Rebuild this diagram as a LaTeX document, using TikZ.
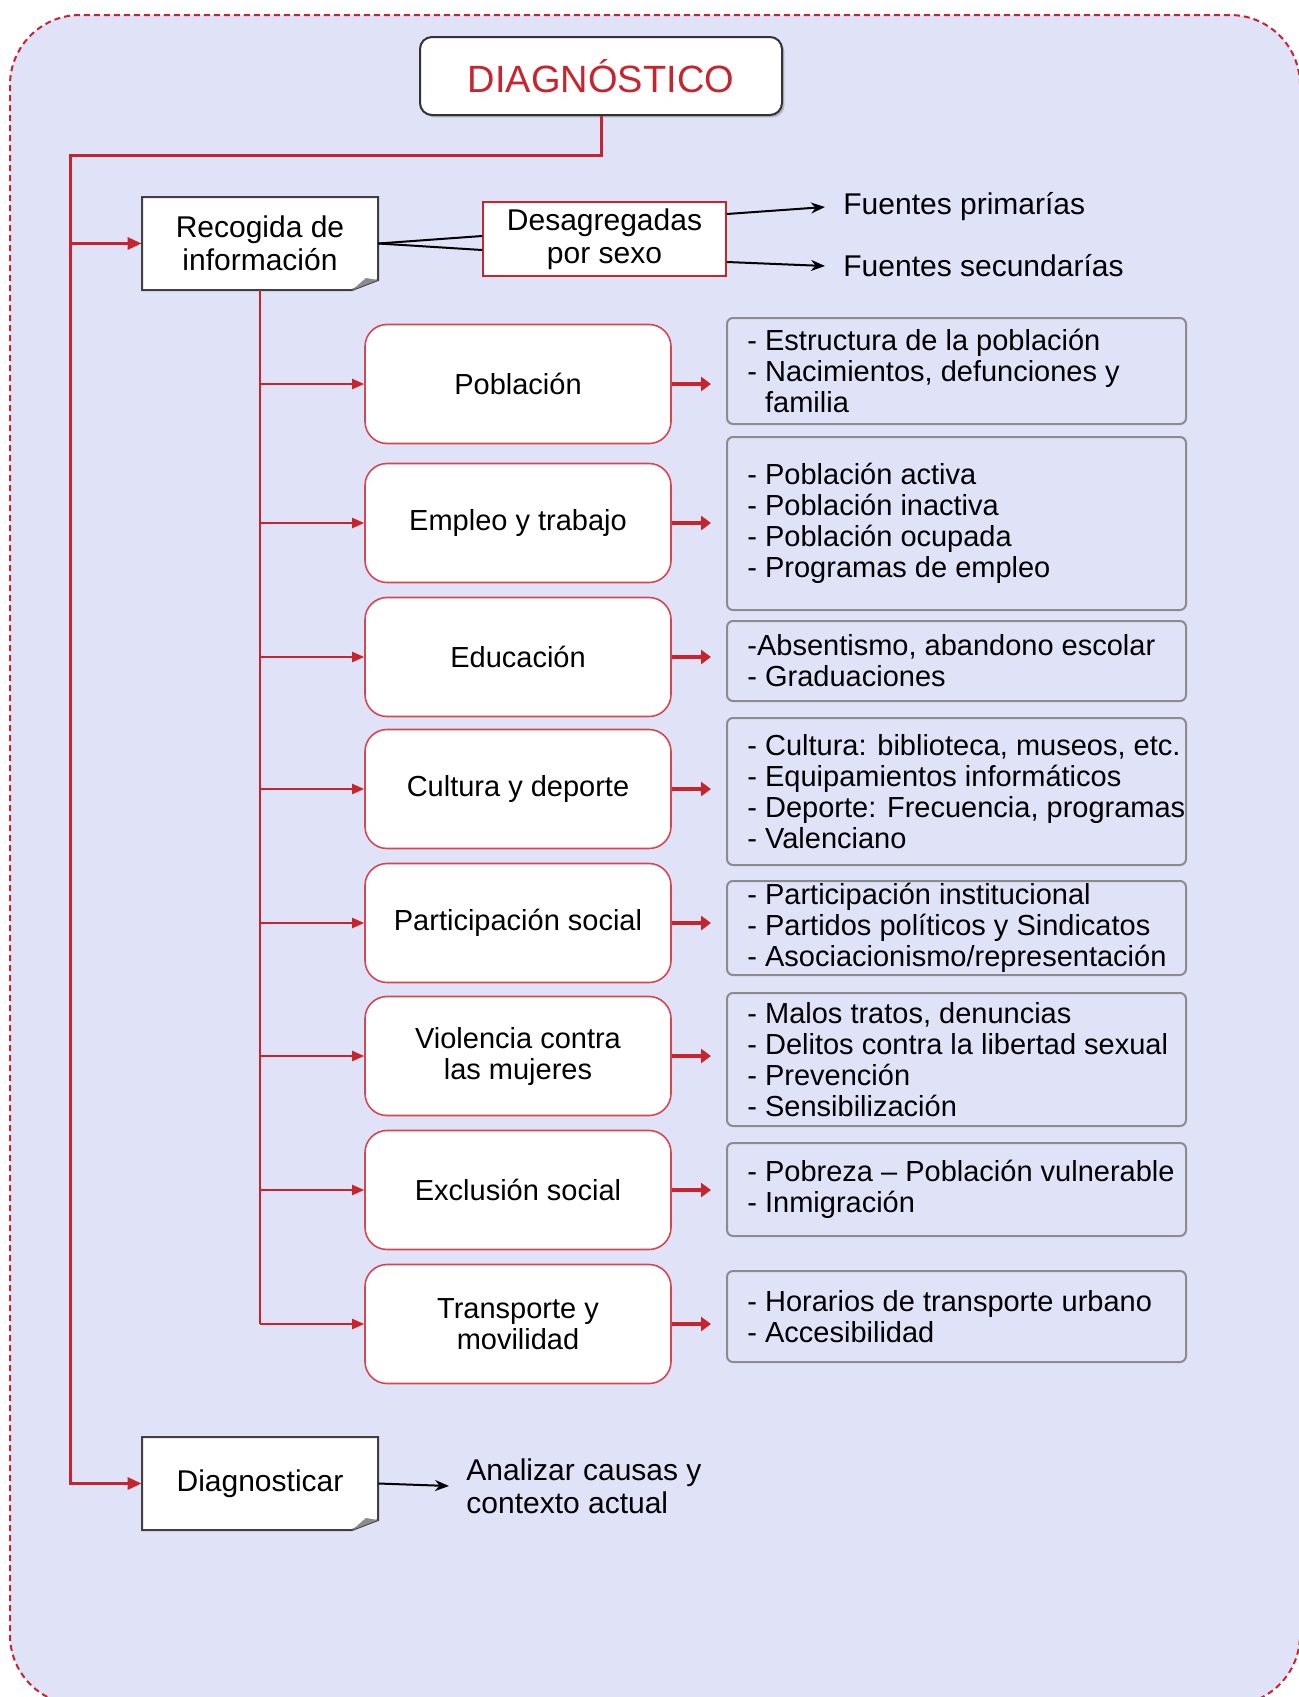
\documentclass[tikz,border=0pt]{standalone}
\usepackage{fontspec}
\setmainfont{Liberation Sans}
\usetikzlibrary{arrows.meta,shadows}
\definecolor{fondo}{RGB}{224,226,248}
\definecolor{rojo}{RGB}{200,36,46}
\definecolor{rojoclaro}{RGB}{214,70,80}

\begin{document}
\begin{tikzpicture}[
                x=0.5pt, y=-0.5pt,% one unit is one pixel of the page
                every node/.style={font=\fontsize{14.5}{15.5}\selectfont, inner sep=0pt},
                marco/.style={draw=rojo, fill=fondo, densely dashed, line width=1pt, rounded corners=35pt},
                titulo/.style={draw=black!80, line width=1pt, rounded corners=6pt, fill=white,
                    minimum width=181pt, minimum height=39pt, text=rojo, font=\fontsize{19}{22}\selectfont,
                    drop shadow={shadow xshift=1.2pt, shadow yshift=-1.2pt, opacity=0.45}},
                nota/.style={draw=black!75, line width=1pt, fill=white},
                notatexto/.style={minimum width=118pt, minimum height=46.5pt, align=center, font=\fontsize{15}{16.5}\selectfont},
                desag/.style={draw=rojo, line width=0.8pt, fill=white, minimum width=121.5pt, minimum height=37pt,
                    align=center, font=\fontsize{15}{16.5}\selectfont},
                fuente/.style={anchor=west, align=left, font=\fontsize{15}{16.5}\selectfont},
                categoria/.style={draw=rojoclaro, line width=0.8pt, fill=white, rounded corners=11pt,
                    minimum width=153pt, minimum height=59.5pt, align=center},
                detalle/.style={draw=black!45, line width=1pt, rounded corners=3pt, minimum width=229.5pt},
                detalletexto/.style={anchor=west, align=left},
                tronco/.style={draw=rojo, line width=1.5pt},
                rama/.style={draw=rojo, line width=1pt, -{Triangle[length=6pt,width=5pt]}},
                flechacorta/.style={draw=rojo, line width=2pt, shorten >=7.5pt, -{Triangle[length=5pt,width=7pt]}},
                flechanegra/.style={draw=black, line width=1pt, -{Stealth[length=7pt,width=5.5pt]}},
                enlace/.style={draw=black, line width=1pt}
            ]

                \fill[white] (0,0) rectangle (1298,1697);
                \useasboundingbox (0,0) rectangle (1298,1697);
                \filldraw[marco] (10,15) rectangle (1300,1705);

                \node[titulo] (diag) at (601,76) {DIAGNÓSTICO};

                % boxes with a folded corner
                \filldraw[nota] (142,197) -- (378,197) -- (378,280) -- (352,290) -- (142,290) -- cycle;
                \fill[black!45] (352,290) -- (378,280) -- (366,278) -- cycle;
                \node[notatexto] (rec) at (260,243.5) {Recogida de\\información};

                \filldraw[nota] (142,1437) -- (378,1437) -- (378,1520) -- (352,1530) -- (142,1530) -- cycle;
                \fill[black!45] (352,1530) -- (378,1520) -- (366,1518) -- cycle;
                \node[notatexto] (dia) at (260,1483.5) {Diagnosticar};

                \node[desag] (des) at (604.5,239) {Desagregadas\\por sexo};
                \node[fuente] (fp) at (843,207) {Fuentes primarías};
                \node[fuente] (fs) at (843,266) {Fuentes secundarías};
                \node[fuente] (ana) at (466,1486) {Analizar causas y\\contexto actual};

                \draw[enlace] (rec.east) -- ([yshift=1.5pt]des.west);
                \draw[enlace] (rec.east) -- ([yshift=-5.5pt]des.west);
                \draw[flechanegra] ([yshift=12.5pt]des.east) -- ([xshift=-9pt]fp.west);
                \draw[flechanegra] ([yshift=-11.5pt]des.east) -- ([xshift=-9pt]fs.west);
                \draw[flechanegra] (dia.east) -- ([xshift=-8.5pt]ana.west);

                \coordinate (codo) at (70,155);
                \draw[tronco, -{Triangle[length=7pt,width=6pt]}] (diag.south) |- (codo) |- (dia.west);
                \draw[tronco, -{Triangle[length=7pt,width=6pt]}] (codo |- rec.west) -- (rec.west);

                \node[categoria] (pob) at (518,384) {Población};
                \node[categoria] (emp) at (518,523) {Empleo y trabajo};
                \node[categoria] (edu) at (518,657) {Educación};
                \node[categoria] (cul) at (518,789) {Cultura y deporte};
                \node[categoria] (par) at (518,923) {Participación social};
                \node[categoria] (vio) at (518,1056) {Violencia contra\\las mujeres};
                \node[categoria] (exc) at (518,1190) {Exclusión social};
                \node[categoria] (tra) at (518,1324) {Transporte y\\movilidad};

                \draw[draw=rojo, line width=1pt] (rec.south) -- (rec.south |- tra.west);
                \draw[rama] (rec.south |- pob.west) -- (pob.west);
                \draw[rama] (rec.south |- emp.west) -- (emp.west);
                \draw[rama] (rec.south |- edu.west) -- (edu.west);
                \draw[rama] (rec.south |- cul.west) -- (cul.west);
                \draw[rama] (rec.south |- par.west) -- (par.west);
                \draw[rama] (rec.south |- vio.west) -- (vio.west);
                \draw[rama] (rec.south |- exc.west) -- (exc.west);
                \draw[rama] (rec.south |- tra.west) -- (tra.west);

                \node[detalle, minimum height=53pt] (dpob) at (956.5,371) {};
                \node[detalletexto] (tpob) at ([xshift=10.5pt]dpob.west)
                    {- Estructura de la población\\- Nacimientos, defunciones y\\\phantom{- }familia};
                \node[detalle, minimum height=86.5pt] (demp) at (956.5,523.5) {};
                \node[detalletexto] (temp) at ([xshift=10.5pt]demp.west)
                    {- Población activa\\- Población inactiva\\- Población ocupada\\- Programas de empleo};
                \node[detalle, minimum height=40pt] (dedu) at (956.5,661) {};
                \node[detalletexto] (tedu) at ([xshift=10.5pt]dedu.west)
                    {-Absentismo, abandono escolar\\- Graduaciones};
                \node[detalle, minimum height=73.5pt] (dcul) at (956.5,791.5) {};
                \node[detalletexto] (tcul) at ([xshift=10.5pt]dcul.west)
                    {- Cultura: biblioteca, museos, etc.\\- Equipamientos informáticos\\- Deporte: Frecuencia, programas\\- Valenciano};
                \node[detalle, minimum height=47pt] (dpar) at (956.5,928) {};
                \node[detalletexto] (tpar) at ([xshift=10.5pt]dpar.west)
                    {- Participación institucional\\- Partidos políticos y Sindicatos\\- Asociacionismo/representación};
                \node[detalle, minimum height=66.5pt] (dvio) at (956.5,1059.5) {};
                \node[detalletexto] (tvio) at ([xshift=10.5pt]dvio.west)
                    {- Malos tratos, denuncias\\- Delitos contra la libertad sexual\\- Prevención\\- Sensibilización};
                \node[detalle, minimum height=46.5pt] (dexc) at (956.5,1189.5) {};
                \node[detalletexto] (texc) at ([xshift=10.5pt]dexc.west)
                    {- Pobreza – Población vulnerable\\- Inmigración};
                \node[detalle, minimum height=45.5pt] (dtra) at (956.5,1316.5) {};
                \node[detalletexto] (ttra) at ([xshift=10.5pt]dtra.west)
                    {- Horarios de transporte urbano\\- Accesibilidad};

                \draw[flechacorta] (pob.east) -- (pob.east -| dpob.west);
                \draw[flechacorta] (emp.east) -- (emp.east -| demp.west);
                \draw[flechacorta] (edu.east) -- (edu.east -| dedu.west);
                \draw[flechacorta] (cul.east) -- (cul.east -| dcul.west);
                \draw[flechacorta] (par.east) -- (par.east -| dpar.west);
                \draw[flechacorta] (vio.east) -- (vio.east -| dvio.west);
                \draw[flechacorta] (exc.east) -- (exc.east -| dexc.west);
                \draw[flechacorta] (tra.east) -- (tra.east -| dtra.west);

            \end{tikzpicture}
\end{document}
